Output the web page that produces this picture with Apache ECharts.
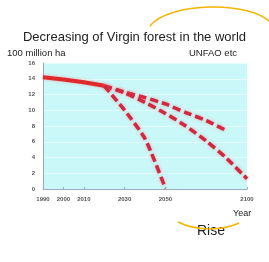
<!DOCTYPE html>
<html>
<head>
<meta charset="utf-8">
<script src="https://cdn.jsdelivr.net/npm/echarts@6/dist/echarts.min.js"></script>
<style>
  html, body { margin: 0; padding: 0; background: #fff; }
  #chart { width: 269px; height: 262px; }
</style>
</head>
<body>
<div id="chart"></div>
<script>
// x axis is compressed after 2050 in the original, so use categories
const years = ['1990', '2000', '2010', '2020', '2030', '2040', '2050', '2062', '2075', '2087', '2100']
const shownYears = ['1990', '2000', '2010', '2030', '2050', '2100']
const yTicks = [0, 2, 4, 6, 8, 10, 12, 14, 16]

// 100 million ha
const pastForest = [14.2, 13.9, 13.55, 13.1, null, null, null, null, null, null, null]
const slowDecline = [null, null, null, 13.1, 12.3, 11.6, 10.8, 9.7, 8.7, 7.4, null]
const midDecline = [null, null, null, 13.1, 12.2, 11.0, 9.6, 8.0, 6.1, 3.9, 1.3]
const fastDecline = [null, null, null, 13.1, 10.0, 6.4, 0.1, null, null, null, null]

const dashed = {
  type: [8, 4],
  width: 3.5,
  color: '#d0283e',
  shadowColor: 'rgba(255, 90, 110, 0.6)',
  shadowBlur: 3
}

function dashSeries (name, data) {
  return {
    name: name,
    type: 'line',
    data: data,
    symbol: 'none',
    smooth: 0.2,
    connectNulls: false,
    lineStyle: dashed
  }
}

const chart = echarts.init(document.getElementById('chart'))
chart.setOption({
  backgroundColor: '#fff',
  animation: false,
  title: {
    text: 'Decreasing of Virgin forest in the world',
    left: 'center',
    top: 26,
    textStyle: {
      fontFamily: 'Liberation Sans',
      fontSize: 13,
      fontWeight: 'normal',
      color: '#222'
    }
  },
  grid: {
    left: 43,
    right: 22,
    top: 63,
    bottom: 73,
    show: true,
    backgroundColor: '#caf7f7',
    borderWidth: 0
  },
  xAxis: {
    type: 'category',
    data: years,
    boundaryGap: false,
    axisLine: { lineStyle: { color: '#9ab', width: 1 } },
    axisTick: { show: true, inside: true, length: 2, lineStyle: { color: '#9ab' } },
    axisLabel: {
      interval: (i, v) => shownYears.indexOf(v) >= 0,
      margin: 7,
      fontSize: 6,
      fontWeight: 'bold',
      color: '#555'
    },
    splitLine: { show: false }
  },
  yAxis: {
    type: 'value',
    min: yTicks[0],
    max: yTicks[yTicks.length - 1],
    interval: 2,
    axisLine: { show: true, lineStyle: { color: '#9ab', width: 1 } },
    axisTick: { show: false },
    axisLabel: {
      margin: 8,
      fontSize: 6,
      fontWeight: 'bold',
      color: '#555'
    },
    splitLine: { show: true, lineStyle: { color: '#e4fcfc', width: 1 } }
  },
  series: [
    {
      name: 'past',
      type: 'line',
      data: pastForest,
      symbol: 'none',
      lineStyle: { width: 4, color: '#de2a2a', shadowColor: 'rgba(255, 90, 90, 0.5)', shadowBlur: 3 }
    },
    dashSeries('slow', slowDecline),
    dashSeries('mid', midDecline),
    dashSeries('fast', fastDecline)
  ],
  graphic: [
    {
      type: 'text', left: 7, top: 48,
      style: { text: '100 million ha', fontSize: 9.5, fontFamily: 'Liberation Sans', fill: '#222' }
    },
    {
      type: 'text', left: 189, top: 48,
      style: { text: 'UNFAO etc', fontSize: 9.5, fontFamily: 'Liberation Sans', fill: '#222' }
    },
    {
      type: 'text', left: 233, top: 209,
      style: { text: 'Year', fontSize: 9, fontFamily: 'Liberation Sans', fill: '#222' }
    },
    {
      type: 'text', left: 197, top: 224,
      style: { text: 'Rise', fontSize: 14, fontFamily: 'Liberation Sans', fill: '#222' }
    },
    {
      type: 'bezierCurve',
      shape: { x1: 150, y1: 26, x2: 272, y2: 24, cpx1: 168, cpy1: 2, cpx2: 252, cpy2: 0 },
      style: { stroke: '#f5b400', lineWidth: 1.5, fill: null }
    },
    {
      type: 'bezierCurve',
      shape: { x1: 178, y1: 222, x2: 239, y2: 223, cpx1: 196, cpy1: 231, cpx2: 222, cpy2: 231 },
      style: { stroke: '#f5b400', lineWidth: 1.5, fill: null }
    }
  ]
})
</script>
</body>
</html>
